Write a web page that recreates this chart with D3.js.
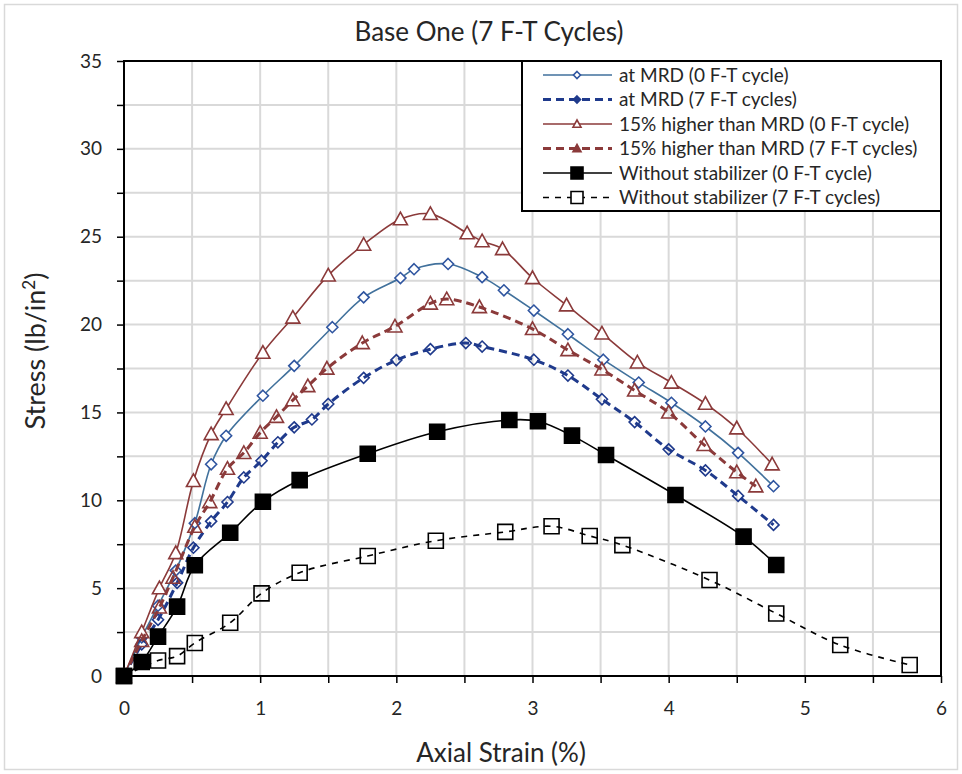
<!DOCTYPE html>
<html><head><meta charset="utf-8">
<script src="https://cdn.jsdelivr.net/npm/d3@7/dist/d3.min.js"></script>
<style>body{margin:0;background:#fff;} svg text{font-family:Lato, "Open Sans", sans-serif;fill:#262626;}</style>
</head><body><svg id="c" width="962" height="774"></svg>
<script>
// ---- data ----
const title = "Base One (7 F-T Cycles)";
const xLabel = "Axial Strain (%)";
const xTicks = [0,1,2,3,4,5,6];
const yTicks = [0,5,10,15,20,25,30,35];
const seriesNames = [
  "at MRD (0 F-T cycle)",
  "at MRD (7 F-T cycles)",
  "15% higher than MRD (0 F-T cycle)",
  "15% higher than MRD (7 F-T cycles)",
  "Without stabilizer (0 F-T cycle)",
  "Without stabilizer (7 F-T cycles)"
];
const mrd0X = [0,0.13,0.25,0.38,0.52,0.64,0.75,1.02,1.25,1.53,1.76,2.03,2.13,2.38,2.63,2.79,3.01,3.26,3.52,3.78,4.02,4.27,4.51,4.77];
const mrd0Y = [0,2.2,4.0,6.0,8.7,12.05,13.67,15.95,17.65,19.85,21.55,22.65,23.15,23.45,22.7,21.95,20.8,19.45,18.0,16.7,15.55,14.2,12.7,10.8];
const mrd7X = [0,0.13,0.25,0.39,0.51,0.64,0.76,0.88,1.01,1.13,1.25,1.38,1.5,1.76,2.0,2.25,2.51,2.63,3.01,3.26,3.51,3.75,4.0,4.27,4.51,4.77];
const mrd7Y = [0,1.8,3.2,5.3,7.3,8.8,9.9,11.3,12.25,13.3,14.15,14.6,15.48,16.97,17.98,18.6,18.95,18.75,18.0,17.1,15.75,14.45,12.9,11.7,10.25,8.6];
const hi0X = [0,0.13,0.26,0.38,0.51,0.64,0.75,1.02,1.24,1.5,1.76,2.03,2.25,2.52,2.63,2.78,3.0,3.25,3.51,3.77,4.02,4.27,4.5,4.76];
const hi0Y = [0,2.5,5.0,7.0,11.1,13.77,15.2,18.4,20.4,22.8,24.55,26.0,26.3,25.2,24.75,24.3,22.65,21.1,19.5,17.85,16.7,15.5,14.1,12.05];
const hi7X = [0,0.13,0.26,0.36,0.52,0.63,0.76,0.88,1.0,1.12,1.24,1.35,1.49,1.75,1.99,2.25,2.37,2.61,3.0,3.26,3.51,3.75,4.0,4.26,4.5,4.64];
const hi7Y = [0,2.0,3.9,5.6,8.5,9.9,11.8,12.7,13.85,14.75,15.7,16.5,17.5,18.95,19.9,21.2,21.45,21.0,19.75,18.55,17.45,16.25,15.0,13.15,11.6,10.8];
const ws0X = [0,0.13,0.25,0.39,0.52,0.78,1.02,1.29,1.79,2.3,2.83,3.04,3.29,3.54,4.05,4.55,4.79];
const ws0Y = [0,0.8,2.24,3.95,6.3,8.15,9.92,11.15,12.65,13.9,14.57,14.5,13.68,12.58,10.3,7.93,6.32];
const ws7X = [0,0.25,0.39,0.52,0.78,1.01,1.29,1.79,2.29,2.8,3.14,3.42,3.66,4.3,4.79,5.26,5.77];
const ws7Y = [0,0.88,1.13,1.88,3.03,4.7,5.88,6.83,7.7,8.2,8.52,7.97,7.45,5.46,3.56,1.76,0.63];

// ---- styles ----
const styles = [
  {line:"#41719c", mk:"#2f55a0", w:1.6, dash:null, shape:"diamond", fill:"#fff", size:11, lsize:7},
  {line:"#1f3a8c", mk:"#1f3a8c", w:3, dash:"8,5", shape:"diamond", fill:"none", size:11, lsize:7},
  {line:"#8b3a3a", mk:"#8b3a3a", w:1.6, dash:null, shape:"triangle", fill:"#fff", size:14, lsize:8},
  {line:"#8b3a3a", mk:"#8b3a3a", w:3, dash:"8,5", shape:"triangle", fill:"none", size:14, lsize:8},
  {line:"#000", mk:"#000", w:1.6, dash:null, shape:"square", fill:"#000", size:15, lsize:12},
  {line:"#000", mk:"#000", w:1.6, dash:"6,6", shape:"square", fill:"none", size:15, lsize:12}
];
const data = [[mrd0X,mrd0Y],[mrd7X,mrd7Y],[hi0X,hi0Y],[hi7X,hi7Y],[ws0X,ws0Y],[ws7X,ws7Y]]
  .map(([xs,ys]) => xs.map((x,i)=>({x, y:ys[i]})));

const svg = d3.select("#c");
const L=124, R=941, T=61, B=676;
const x = d3.scaleLinear().domain([0,6]).range([L,R]);
const y = d3.scaleLinear().domain([0,35]).range([B,T]);

// outer border
svg.append("rect").attr("x",4.5).attr("y",4.5).attr("width",953).attr("height",765)
  .attr("fill","#fff").attr("stroke","#d9d9d9").attr("stroke-width",1.5);

// title
svg.append("text").attr("x",489).attr("y",41).attr("text-anchor","middle")
  .attr("font-size",26).text(title);

// grid
const g = svg.append("g");
g.selectAll(".vg").data(d3.range(0.5,6,0.5)).join("line")
  .attr("x1",d=>x(d)).attr("x2",d=>x(d)).attr("y1",T).attr("y2",B)
  .attr("stroke","#d9d9d9").attr("stroke-width",2);
g.selectAll(".hg").data(d3.range(2.5,35,2.5)).join("line")
  .attr("x1",L).attr("x2",R).attr("y1",d=>y(d)).attr("y2",d=>y(d))
  .attr("stroke","#d9d9d9").attr("stroke-width",2);

// axes
const xAxis = d3.axisBottom(x).tickValues(d3.range(0,6.01,0.5)).tickSize(7).tickFormat(d=>xTicks.includes(d)?d:"");
const gx = svg.append("g").attr("transform",`translate(0,${B})`).call(xAxis);
gx.select(".domain").remove();
gx.selectAll("line").attr("stroke","#000").attr("stroke-width",1.5);
gx.selectAll("text").attr("font-size",19).attr("y",26).attr("dy","0.71em").attr("font-family","Lato").attr("fill","#262626");

const yAxis = d3.axisLeft(y).tickValues(d3.range(0,35.01,2.5)).tickSize(7).tickFormat(d=>yTicks.includes(d)?d:"");
const gy = svg.append("g").attr("transform",`translate(${L},0)`).call(yAxis);
gy.select(".domain").remove();
gy.selectAll("line").attr("stroke","#000").attr("stroke-width",1.5);
gy.selectAll("text").attr("font-size",19).attr("x",-22).attr("font-family","Lato").attr("fill","#262626");

// frame
svg.append("rect").attr("x",L).attr("y",T).attr("width",R-L).attr("height",B-T)
  .attr("fill","none").attr("stroke","#000").attr("stroke-width",2);

// axis titles
svg.append("text").attr("x",501).attr("y",762).attr("text-anchor","middle")
  .attr("font-size",26).text(xLabel);
const yt = svg.append("text").attr("transform",`translate(45,351) rotate(-90)`)
  .attr("text-anchor","middle").attr("font-size",27);
yt.append("tspan").text("Stress (lb/in");
yt.append("tspan").attr("font-size",17).attr("dy",-10).text("2");
yt.append("tspan").attr("dy",10).text(")");

// marker path
function markerPath(shape, s){
  const h=s/2;
  if(shape==="diamond") return `M0,${-h}L${h},0L0,${h}L${-h},0Z`;
  if(shape==="triangle") return `M0,${-h}L${h},${h*0.8}L${-h},${h*0.8}Z`;
  return `M${-h},${-h}H${h}V${h}H${-h}Z`;
}

const line = d3.line().x(d=>x(d.x)).y(d=>y(d.y)).curve(d3.curveCatmullRom.alpha(0.5));
const plot = svg.append("g");
data.forEach((pts,i)=>{
  const st=styles[i];
  const sg = plot.append("g");
  sg.append("path").attr("d",line(pts)).attr("fill","none").attr("stroke",st.line)
    .attr("stroke-width",st.w).attr("stroke-dasharray",st.dash);
  sg.selectAll("path.m").data(pts).join("path").attr("class","m")
    .attr("transform",d=>`translate(${x(d.x)},${y(d.y)})`)
    .attr("d",markerPath(st.shape,st.size))
    .attr("fill",st.fill).attr("stroke",st.mk).attr("stroke-width",1.6);
});

// legend
const lg = svg.append("g");
lg.append("rect").attr("x",522).attr("y",61).attr("width",419).attr("height",150)
  .attr("fill","#fff").attr("stroke","#000").attr("stroke-width",2);
seriesNames.forEach((name,i)=>{
  const st=styles[i];
  const yy = 75 + i*24.5;
  lg.append("line").attr("x1",543).attr("x2",612).attr("y1",yy).attr("y2",yy)
    .attr("stroke",st.line).attr("stroke-width",st.w).attr("stroke-dasharray",st.dash);
  lg.append("path").attr("transform",`translate(577,${yy})`).attr("d",markerPath(st.shape,st.lsize))
    .attr("fill",st.fill==="none"?(i===5?"#fff":st.mk):st.fill).attr("stroke",st.mk).attr("stroke-width",1.6);
  lg.append("text").attr("x",619).attr("y",yy).attr("dy","0.35em").attr("font-size",19).text(name);
});
</script></body></html>
